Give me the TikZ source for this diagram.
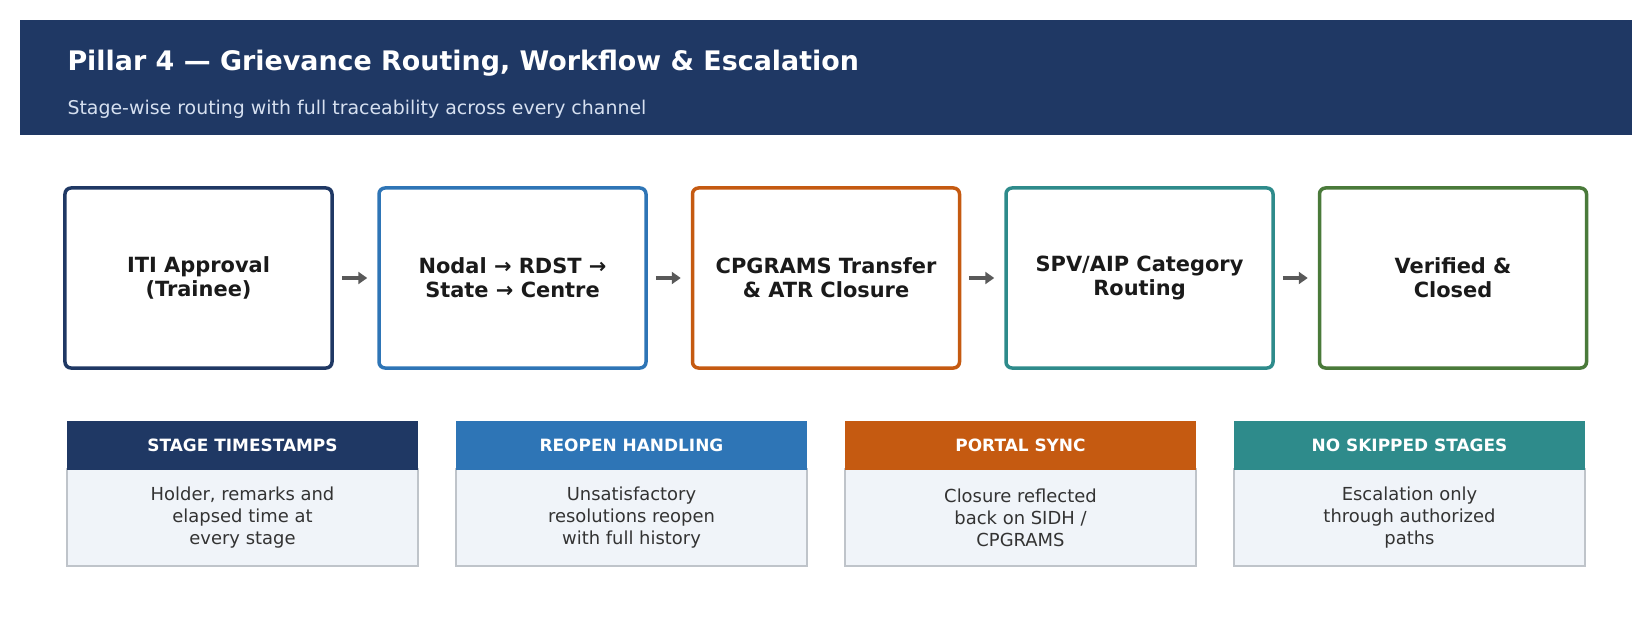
\documentclass[tikz,border=0pt]{standalone}
\usepackage{fontspec}
\setmainfont{DejaVu Sans}
\usetikzlibrary{arrows.meta}
\definecolor{navy}{HTML}{1F3864}
\definecolor{cblue}{HTML}{2E75B6}
\definecolor{corange}{HTML}{C55A11}
\definecolor{cteal}{HTML}{2E8B8B}
\definecolor{cgreen}{HTML}{4A7A3A}
\definecolor{subt}{HTML}{D6E0F0}
\definecolor{bodyfill}{HTML}{F0F4F9}
\definecolor{bodyline}{HTML}{BFC4CA}
\definecolor{txt}{HTML}{1A1A1A}
\definecolor{btxt}{HTML}{333333}
\begin{document}
\begin{tikzpicture}[x=1bp,y=-1bp,
  stage/.style={draw=#1,line width=3.5bp,rounded corners=6bp,fill=white,minimum width=267bp,minimum height=180bp,align=center,text=txt,font=\fontsize{21}{24}\selectfont\bfseries,inner sep=0pt},
  arr/.style={-{Triangle[length=9bp,width=12bp]},line width=3.5bp,draw=black!65},
  chead/.style={fill=#1,minimum width=351bp,minimum height=49bp,text=white,font=\fontsize{17}{20}\selectfont\bfseries,inner sep=0pt},
  cbody/.style={fill=bodyfill,draw=bodyline,line width=1.2bp,minimum width=351bp,minimum height=97bp,align=center,text=btxt,font=\fontsize{18}{22}\selectfont,inner sep=0pt}]
\useasboundingbox (0,0) rectangle (1652,617);
\fill[navy] (20,20) rectangle (1632,135);
\node[anchor=west,text=white,font=\fontsize{27}{30}\selectfont\bfseries] (title) at (64,63) {Pillar 4 — Grievance Routing, Workflow \& Escalation};
\node[anchor=west,text=subt,font=\fontsize{19}{22}\selectfont] (sub) at (64,109) {Stage-wise routing with full traceability across every channel};
\node[stage=navy] (s1) at (198.5,278) {ITI Approval\\(Trainee)};
\node[stage=cblue] (s2) at (512.5,278) {Nodal → RDST →\\State → Centre};
\node[stage=corange] (s3) at (826,278) {CPGRAMS Transfer\\\& ATR Closure};
\node[stage=cteal] (s4) at (1139.5,278) {SPV/AIP Category\\Routing};
\node[stage=cgreen] (s5) at (1453,278) {Verified \&\\Closed};
\draw[arr] ([xshift=8bp]s1.east) -- ([xshift=-10bp]s2.west);
\draw[arr] ([xshift=8bp]s2.east) -- ([xshift=-10bp]s3.west);
\draw[arr] ([xshift=8bp]s3.east) -- ([xshift=-10bp]s4.west);
\draw[arr] ([xshift=8bp]s4.east) -- ([xshift=-10bp]s5.west);
\foreach \i/\x/\c/\h/\b in {1/242.5/navy/STAGE TIMESTAMPS/{Holder, remarks and\\elapsed time at\\every stage},
  2/631.5/cblue/REOPEN HANDLING/{Unsatisfactory\\resolutions reopen\\with full history},
  3/1020.5/corange/PORTAL SYNC/{Closure reflected\\back on SIDH /\\CPGRAMS},
  4/1409.5/cteal/NO SKIPPED STAGES/{Escalation only\\through authorized\\paths}}{
  \node[cbody] (b\i) at (\x,517.5) {\b};
  \node[chead=\c] (h\i) at (\x,445) {\h};
}
\end{tikzpicture}
\end{document}
